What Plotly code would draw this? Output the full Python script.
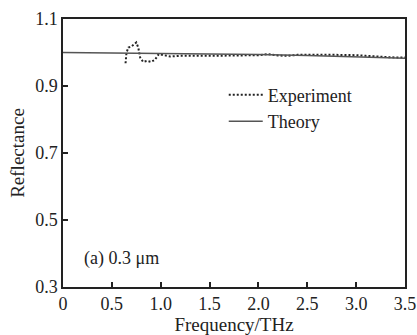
import plotly.graph_objects as go

exp_f = [0.64, 0.65, 0.67, 0.70, 0.73, 0.75, 0.77, 0.79, 0.82, 0.86, 0.90, 0.94, 0.98, 1.02, 1.1, 1.2, 1.3, 1.4, 1.5, 1.6, 1.7, 1.8, 1.9, 2.0, 2.1, 2.2, 2.3, 2.4, 2.5, 2.6, 2.7, 2.8, 2.9, 3.0, 3.1, 3.2, 3.3, 3.4, 3.5]
exp_r = [0.968, 1.000, 1.015, 1.018, 1.025, 1.030, 1.015, 0.985, 0.972, 0.975, 0.972, 0.978, 0.995, 0.992, 0.988, 0.990, 0.989, 0.990, 0.990, 0.990, 0.991, 0.990, 0.990, 0.992, 0.995, 0.991, 0.990, 0.993, 0.993, 0.992, 0.993, 0.993, 0.993, 0.992, 0.990, 0.988, 0.987, 0.985, 0.985]
th_f = [0.0, 1.0, 1.5, 2.0, 2.5, 3.0, 3.5]
th_r = [1.0, 0.998, 0.996, 0.994, 0.991, 0.988, 0.983]

x_ticks = [0, 0.5, 1.0, 1.5, 2.0, 2.5, 3.0, 3.5]
x_labels = ["0", "0.5", "1.0", "1.5", "2.0", "2.5", "3.0", "3.5"]
y_ticks = [0.3, 0.5, 0.7, 0.9, 1.1]
y_labels = ["0.3", "0.5", "0.7", "0.9", "1.1"]

font = "Liberation Serif, Times New Roman, serif"

fig = go.Figure()
fig.add_trace(go.Scatter(x=exp_f, y=exp_r, mode="lines", name="Experiment",
                         line=dict(color="#222222", width=2, dash="2px,2px")))
fig.add_trace(go.Scatter(x=th_f, y=th_r, mode="lines", name="Theory",
                         line=dict(color="#555555", width=1.5)))

axis_common = dict(showline=True, linecolor="#222222", linewidth=1.5, mirror=True,
                   ticks="inside", ticklen=5, tickwidth=1.5, tickcolor="#222222",
                   showgrid=False, zeroline=False, automargin=False,
                   tickfont=dict(family=font, size=18, color="#222222"))

fig.update_layout(
    width=417, height=335,
    margin=dict(l=63, r=12, t=19, b=48),
    paper_bgcolor="white", plot_bgcolor="white",
    font=dict(family=font, color="#222222"),
    xaxis=dict(range=[0, 3.5], tickvals=x_ticks, ticktext=x_labels,
               title=dict(text="Frequency/THz", font=dict(family=font, size=19), standoff=4),
               **axis_common),
    yaxis=dict(range=[0.3, 1.1], tickvals=y_ticks, ticktext=y_labels,
               title=dict(text="Reflectance", font=dict(family=font, size=19), standoff=6),
               **axis_common),
    legend=dict(x=0.47, y=0.785, xanchor="left", yanchor="top",
                bgcolor="rgba(0,0,0,0)", font=dict(family=font, size=18),
                itemwidth=34, tracegroupgap=0),
    showlegend=True,
    annotations=[dict(text="(a) 0.3 μm", x=0.19, y=0.384, xref="x", yref="y",
                      xanchor="left", yanchor="middle", showarrow=False,
                      font=dict(family=font, size=18, color="#222222"))],
)

fig.write_html("out.html", config={"displayModeBar": False},
               post_script="document.body.style.margin='0';")
